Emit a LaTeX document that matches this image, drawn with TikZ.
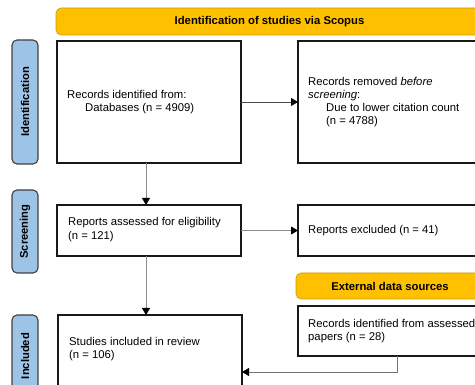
\documentclass[tikz,border=0pt]{standalone}
\usepackage{fontspec}
\setmainfont{Liberation Sans}
\usetikzlibrary{arrows.meta}
\definecolor{gold}{HTML}{FFC000}
\definecolor{golddark}{HTML}{C89B10}
\definecolor{lblue}{HTML}{9DC3E6}
\tikzset{
  box/.style={draw=black!90, line width=1.2pt, anchor=north west, inner sep=0pt, outer sep=0pt},
  boxtext/.style={anchor=west, align=left, font=\fontsize{11.3}{13.2}\selectfont, inner sep=0pt},
  banner/.style={draw=golddark, fill=gold, rounded corners=5pt, line width=0.6pt, anchor=north west, inner sep=0pt, outer sep=0pt},
  bannertext/.style={font=\fontsize{11.3}{13.2}\selectfont\bfseries},
  side/.style={draw=black!75, fill=lblue, rounded corners=5pt, line width=1.1pt, anchor=north west, inner sep=0pt, outer sep=0pt},
  sidetext/.style={font=\fontsize{11.2}{13}\selectfont\bfseries, rotate=90},
  arr/.style={line width=0.9pt, -{Triangle[length=7pt,width=8pt,color=black]}},
}
\begin{document}
\begin{tikzpicture}[x=1pt,y=-1pt]
\useasboundingbox (0,0) rectangle (475,385);
% banners
\node[banner, minimum width=427pt, minimum height=27pt] (top) at (56,8) {};
\node[bannertext] at (top.center) {Identification of studies via Scopus};
\node[banner, minimum width=188pt, minimum height=26pt] (ext) at (296,273) {};
\node[bannertext] at (ext.center) {External data sources};
% side labels
\node[side, minimum width=26pt, minimum height=124pt] (s1) at (12,40) {};
\node[sidetext] at (s1.center) {Identification};
\node[side, minimum width=26pt, minimum height=83pt] (s2) at (12,190) {};
\node[sidetext] at (s2.center) {Screening};
\node[side, minimum width=26pt, minimum height=90pt] (s3) at (12,315) {};
\node[sidetext] at (25,356) {Included};
% boxes
\node[box, minimum width=184pt, minimum height=122pt] (b1) at (57,41) {};
\node[boxtext] at ([xshift=10pt]b1.west) {Records identified from:\\\hspace{18pt}Databases (n = 4909)};
\node[box, minimum width=184pt, minimum height=122pt] (b2) at (298,41) {};
\node[boxtext] at ([xshift=10pt]b2.west) {Records removed \textit{before}\\\textit{screening}:\\\hspace{18pt}Due to lower citation count\\\hspace{18pt}(n = 4788)};
\node[box, minimum width=184pt, minimum height=51pt] (b3) at (57,205) {};
\node[boxtext] at ([xshift=11pt,yshift=1pt]b3.west) {Reports assessed for eligibility\\(n = 121)};
\node[box, minimum width=184pt, minimum height=51pt] (b4) at (298,205) {};
\node[boxtext] at ([xshift=10pt]b4.west) {Reports excluded (n = 41)};
\node[box, minimum width=184pt, minimum height=80pt] (b5) at (58,315) {};
\node[boxtext] at ([xshift=11pt]58,349) {Studies included in review\\(n = 106)};
\node[box, minimum width=184pt, minimum height=50pt] (b6) at (298,306) {};
\node[boxtext] at ([xshift=10pt]b6.west) {Records identified from assessed\\papers (n = 28)};
% arrows
\draw[arr, draw=black!70] (b1.east) -- (b2.west);
\draw[arr, draw=black!45] (b1.south -| 146,0) -- (b3.north -| 146,0);
\draw[arr, draw=black!45] (b4.west -| b3.east) -- (b4.west);
\draw[arr, draw=black!45] (b3.south -| 146,0) -- (b5.north -| 146,0);
\coordinate (c1) at (397,372);
\draw[arr, draw=black!55] (b6.south -| c1) -- (c1) -- (c1 -| b5.east);
\end{tikzpicture}
\end{document}
